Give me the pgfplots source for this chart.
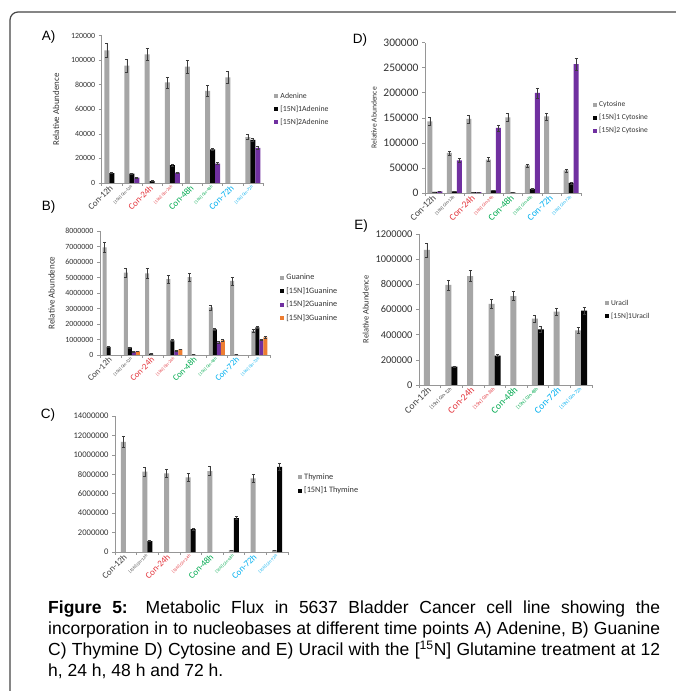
\documentclass[border=0pt]{standalone}
\usepackage{fontspec}
\setmainfont{Carlito}
\newfontfamily\arialf{Liberation Sans}
\usepackage{pgfplots}
\pgfplotsset{compat=1.18}
\usepackage{pgfplotstable}

\definecolor{axgray}{RGB}{150,150,150}
\definecolor{errgray}{RGB}{60,60,60}
\definecolor{bgray}{RGB}{166,166,166}
\definecolor{bblack}{RGB}{5,5,5}
\definecolor{bpurple}{RGB}{112,48,160}
\definecolor{borange}{RGB}{237,125,49}
\definecolor{ca}{RGB}{64,64,64}
\definecolor{cb}{RGB}{228,52,60}
\definecolor{cc}{RGB}{0,170,80}
\definecolor{cd}{RGB}{0,176,240}
\definecolor{framegray}{RGB}{70,70,70}

\def\lasz{9}
\def\lbsz{4.2}
\newcommand{\la}[2]{\textcolor{#1}{\fontsize{\lasz}{\lasz}\selectfont #2}}
\newcommand{\lb}[2]{\textcolor{#1}{\fontsize{\lbsz}{\lbsz}\selectfont #2}}

\pgfplotsset{
  panel/.style={
    scale only axis, ybar=0pt, ymin=0, xmin=-0.5, xmax=7.5,
    axis x line*=bottom, axis y line*=left,
    axis line style={draw=axgray, line width=0.6pt, -},
    xtick={0,...,7},
    xticklabels={\la{ca}{Con-12h},\lb{ca}{[15N] Gln-12h},\la{cb}{Con-24h},\lb{cb}{[15N] Gln-24h},\la{cc}{Con-48h},\lb{cc}{[15N] Gln-48h},\la{cd}{Con-72h},\lb{cd}{[15N] Gln-72h}},
    tick style={draw=axgray, line width=0.6pt},
    major x tick style={draw=none},
    minor xtick={-0.5,0.5,...,7.5},
    minor x tick style={draw=axgray, line width=0.6pt},
    tick align=outside, major tick length=3pt, minor tick length=3pt,
    x tick label style={rotate=45, anchor=east, inner sep=0.5pt},
    scaled y ticks=false,
    yticklabel style={/pgf/number format/fixed, /pgf/number format/1000 sep={}, /pgf/number format/assume math mode=true},
    y tick label style={text=black!80},
    ylabel={Relative Abundence},
    ylabel style={text=black!80},
    legend style={draw=none, fill=none, inner sep=0pt, anchor=west, row sep=2pt,
      font=\fontsize{7.8}{9}\selectfont, text=black!80},
    legend cell align=left,
    legend image code/.code={\fill[##1] (0pt,-2pt) rectangle (4pt,2pt);},
    error bars/y dir=both, error bars/y explicit,
    error bars/error bar style={line width=0.5pt, draw=errgray},
    error bars/error mark options={rotate=90, line width=0.5pt, mark size=1.5pt, draw=errgray},
  },
  gbar/.style={fill=bgray, draw=none},
  kbar/.style={fill=bblack, draw=none},
  pbar/.style={fill=bpurple, draw=none},
  obar/.style={fill=borange, draw=none},
}

% Panel A: Adenine
\pgfplotstableread{
x y e
0 108000 5500
1 95600 5000
2 104800 5000
3 82000 4500
4 94800 5000
5 75000 4500
6 86100 5000
7 37400 2000
}\Agray
\pgfplotstableread{
x y e
0 8100 500
1 7600 500
2 1600 300
3 14600 1000
5 27400 1000
7 35200 1500
}\Ablack
\pgfplotstableread{
x y e
1 4300 400
3 8400 600
5 15700 800
7 28700 1500
}\Apurple

% Panel B: Guanine
\pgfplotstableread{
x y e
0 6950000 350000
1 5320000 300000
2 5270000 300000
3 4900000 250000
4 5020000 250000
5 3070000 160000
6 4780000 250000
7 1550000 100000
}\Bgray
\pgfplotstableread{
x y e
0 520000 20000
1 490000 30000
2 90000 10000
3 950000 40000
4 20000 5000
5 1660000 80000
6 20000 5000
7 1780000 80000
}\Bblack
\pgfplotstableread{
x y e
1 215000 15000
3 280000 20000
5 820000 40000
7 990000 50000
}\Bpurple
\pgfplotstableread{
x y e
1 240000 15000
3 360000 20000
5 945000 40000
7 1140000 60000
}\Borange

% Panel C: Thymine
\pgfplotstableread{
x y e
0 11340000 600000
1 8270000 450000
2 8100000 450000
3 7680000 400000
4 8330000 450000
5 200000 20000
6 7580000 400000
7 200000 20000
}\Cgray
\pgfplotstableread{
x y e
1 1130000 50000
3 2360000 100000
5 3480000 150000
7 8770000 400000
}\Cblack

% Panel D: Cytosine
\pgfplotstableread{
x y e
0 143000 8000
1 80000 4000
2 148000 8000
3 66700 4000
4 151000 8000
5 55000 3000
6 153000 7000
7 45000 3000
}\Dgray
\pgfplotstableread{
x y e
0 2000 300
1 3000 400
2 1500 300
3 5000 500
4 1000 200
5 8000 800
7 20000 2000
}\Dblack
\pgfplotstableread{
x y e
0 3000 300
1 65000 4000
2 1500 200
3 130000 6000
5 200000 10000
7 257000 12000
}\Dpurple

% Panel E: Uracil
\pgfplotstableread{
x y e
0 1073000 55000
1 795000 40000
2 866000 45000
3 644000 35000
4 707000 35000
5 527000 30000
6 583000 30000
7 434000 25000
}\Egray
\pgfplotstableread{
x y e
1 146000 5000
3 233000 8000
5 442000 22000
7 591000 25000
}\Eblack

\begin{document}
\begin{tikzpicture}
\useasboundingbox[fill=white] (0pt,0pt) rectangle (675pt,691pt);
\draw[framegray, line width=1.2pt, rounded corners=8pt] (10pt,-2pt) -- (10pt,679pt) -- (677pt,679pt);

% A
\def\lasz{9}\def\lbsz{4.2}
\begin{axis}[panel, at={(101.7pt,508pt)}, anchor=south west,
  width=161.3pt, height=147.3pt, ymax=120000, ytick={0,20000,...,120000},
  bar width=5pt,
  y tick label style={font=\fontsize{7.9}{9}\selectfont},
  ylabel style={font=\fontsize{8.9}{10}\selectfont}, ylabel shift=5pt,
  legend style={at={(1.07,0.5)}}]
\addplot[gbar, bar shift=-5pt] table[x=x,y=y,y error=e]{\Agray};
\addplot[kbar, bar shift=0pt] table[x=x,y=y,y error=e]{\Ablack};
\addplot[pbar, bar shift=5pt] table[x=x,y=y,y error=e]{\Apurple};
\legend{Adenine,{{}[15N]1Adenine},{{}[15N]2Adenine}}
\end{axis}

% B
\def\lasz{8.7}\def\lbsz{4.2}
\begin{axis}[panel, at={(100pt,336pt)}, anchor=south west,
  width=170pt, height=124pt, ymax=8000000, ytick={0,1000000,...,8000000},
  bar width=4pt,
  y tick label style={font=\fontsize{7.9}{9}\selectfont},
  ylabel style={font=\fontsize{9}{10}\selectfont}, ylabel shift=4pt,
  legend style={at={(1.06,0.46)}, font=\fontsize{8.2}{9}\selectfont}]
\addplot[gbar, bar shift=-6pt] table[x=x,y=y,y error=e]{\Bgray};
\addplot[kbar, bar shift=-2pt] table[x=x,y=y,y error=e]{\Bblack};
\addplot[pbar, bar shift=2pt] table[x=x,y=y,y error=e]{\Bpurple};
\addplot[obar, bar shift=6pt] table[x=x,y=y,y error=e]{\Borange};
\legend{Guanine,{{}[15N]1Guanine},{{}[15N]2Guanine},{{}[15N]3Guanine}}
\end{axis}

% C
\def\lasz{9}\def\lbsz{4.3}
\begin{axis}[panel, at={(115pt,139pt)}, anchor=south west,
  width=173pt, height=136pt, ymax=14000000, ytick={0,2000000,...,14000000},
  bar width=5pt, ylabel={},
  y tick label style={font=\fontsize{8.6}{9}\selectfont},
  legend style={at={(1.058,0.5)}, font=\fontsize{8.3}{9}\selectfont}]
\addplot[gbar, bar shift=-2.5pt] table[x=x,y=y,y error=e]{\Cgray};
\addplot[kbar, bar shift=2.5pt] table[x=x,y=y,y error=e]{\Cblack};
\legend{Thymine,{{}[15N]1 Thymine}}
\end{axis}

% D
\def\lasz{9.3}\def\lbsz{4.4}
\begin{axis}[panel, at={(425pt,498pt)}, anchor=south west,
  width=156pt, height=150.3pt, ymax=300000, ytick={0,50000,...,300000},
  bar width=5pt,
  y tick label style={font=\fontsize{11.5}{12}\selectfont},
  ylabel style={font=\fontsize{7.6}{9}\selectfont},
  legend style={at={(1.077,0.5)}, font=\fontsize{7.5}{9}\selectfont}]
\addplot[gbar, bar shift=-5pt] table[x=x,y=y,y error=e]{\Dgray};
\addplot[kbar, bar shift=0pt] table[x=x,y=y,y error=e]{\Dblack};
\addplot[pbar, bar shift=5pt] table[x=x,y=y,y error=e]{\Dpurple};
\legend{Cytosine,{{}[15N]1 Cytosine},{{}[15N]2 Cytosine}}
\end{axis}

% E
\def\lasz{9.6}\def\lbsz{5}
\begin{axis}[panel, at={(419pt,306pt)}, anchor=south west,
  width=173pt, height=151pt, ymax=1200000, ytick={0,200000,...,1200000},
  bar width=6pt,
  y tick label style={font=\fontsize{10.4}{11}\selectfont},
  ylabel style={font=\fontsize{8.4}{9}\selectfont},
  legend style={at={(1.075,0.497)}, font=\fontsize{7.5}{9}\selectfont}]
\addplot[gbar, bar shift=-3pt] table[x=x,y=y,y error=e]{\Egray};
\addplot[kbar, bar shift=3pt] table[x=x,y=y,y error=e]{\Eblack};
\legend{Uracil,{{}[15N]1Uracil}}
\end{axis}

% panel letters
\node[font=\arialf\fontsize{13.5}{14}\selectfont] at (48.5pt,653.5pt) {A)};
\node[font=\arialf\fontsize{13.5}{14}\selectfont] at (48.5pt,483.5pt) {B)};
\node[font=\arialf\fontsize{13.5}{14}\selectfont] at (48pt,276pt) {C)};
\node[font=\arialf\fontsize{13.5}{14}\selectfont] at (360pt,651pt) {D)};
\node[font=\arialf\fontsize{13.5}{14}\selectfont] at (361pt,465pt) {E)};

% caption
\node[anchor=north west, inner sep=0pt] at (48pt,90pt) {\parbox{612pt}{\arialf\fontsize{17.5}{20.8}\selectfont
\makebox[612pt][s]{\textbf{Figure 5:} Metabolic Flux in 5637 Bladder Cancer cell line showing the}\\
\makebox[612pt][s]{incorporation in to nucleobases at different time points A) Adenine, B) Guanine}\\
\makebox[612pt][s]{C) Thymine D) Cytosine and E) Uracil with the [\textsuperscript{15}N] Glutamine treatment at 12}\\
h, 24 h, 48 h and 72 h.}};
\end{tikzpicture}
\end{document}
